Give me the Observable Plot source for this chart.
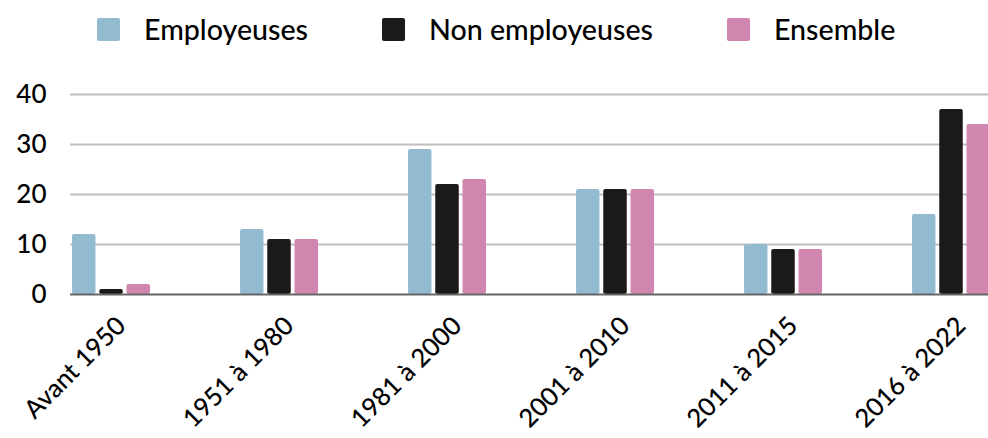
<!DOCTYPE html>
<html>
<head>
<meta charset="utf-8">
<script src="https://cdn.jsdelivr.net/npm/d3@7"></script>
<script src="https://cdn.jsdelivr.net/npm/@observablehq/plot@0.6"></script>
<style>
  html, body { margin: 0; padding: 0; background: #fff; }
  body { width: 988px; height: 438px; overflow: hidden; font-family: Lato, sans-serif; }
  #legend { height: 58px; display: flex; align-items: center; padding-left: 97px; box-sizing: border-box; }
  .item { display: flex; align-items: center; margin-right: 74px; font-size: 28.6px; font-weight: 500; color: #000; }
  .sw { width: 23px; height: 23px; border-radius: 2px; margin-right: 24px; }
</style>
</head>
<body>
<div id="legend"></div>
<div id="chart"></div>
<script>
const categories = ["Avant 1950", "1951 à 1980", "1981 à 2000", "2001 à 2010", "2011 à 2015", "2016 à 2022"];
const seriesNames = ["Employeuses", "Non employeuses", "Ensemble"];
const employeuses = [12, 13, 29, 21, 10, 16];
const nonEmployeuses = [1, 11, 22, 21, 9, 37];
const ensemble = [2, 11, 23, 21, 9, 34];
const seriesColors = ["#93bbd0", "#1a1a1a", "#d086af"];
const yTicks = [0, 10, 20, 30, 40];

const seriesValues = [employeuses, nonEmployeuses, ensemble];
const rows = [];
seriesNames.forEach((s, i) => categories.forEach((c, j) => rows.push({category: c, series: s, value: seriesValues[i][j]})));

// legend
const legend = document.getElementById("legend");
seriesNames.forEach((s, i) => {
  const it = document.createElement("div");
  it.className = "item";
  const sw = document.createElement("div");
  sw.className = "sw";
  sw.style.background = seriesColors[i];
  const t = document.createElement("span");
  t.textContent = s;
  it.appendChild(sw); it.appendChild(t);
  legend.appendChild(it);
});

const groupW = 78, barW = 23.5, gap = 3.75;
const barMarks = seriesNames.map((s, i) => Plot.barY(rows.filter(r => r.series === s), {
  x: "category", y: "value", fill: seriesColors[i], rx: 2,
  insetLeft: i * (barW + gap),
  insetRight: groupW - (i + 1) * barW - i * gap
}));

const chart = Plot.plot({
  width: 988,
  height: 380,
  marginLeft: 70,
  marginRight: 0,
  marginTop: 36,
  marginBottom: 144,
  style: {fontFamily: "Lato, sans-serif", color: "#000", background: "#fff", fontWeight: 500},
  x: {domain: categories, range: [70, 991], paddingInner: 0.5374, paddingOuter: 0},
  y: {domain: [0, 40]},
  marks: [
    Plot.ruleY(yTicks.filter(d => d > 0), {stroke: "#bfbfbf", strokeWidth: 2}),
    ...barMarks,
    Plot.ruleY([0], {stroke: "#666", strokeWidth: 2}),
    Plot.axisY({ticks: yTicks, tickSize: 0, tickPadding: 24, fontSize: 26, label: null}),
    Plot.axisX({tickSize: 0, tickRotate: -45, tickPadding: 27, dx: 10, fontSize: 25.5, label: null})
  ]
});
document.getElementById("chart").appendChild(chart);
</script>
</body>
</html>
